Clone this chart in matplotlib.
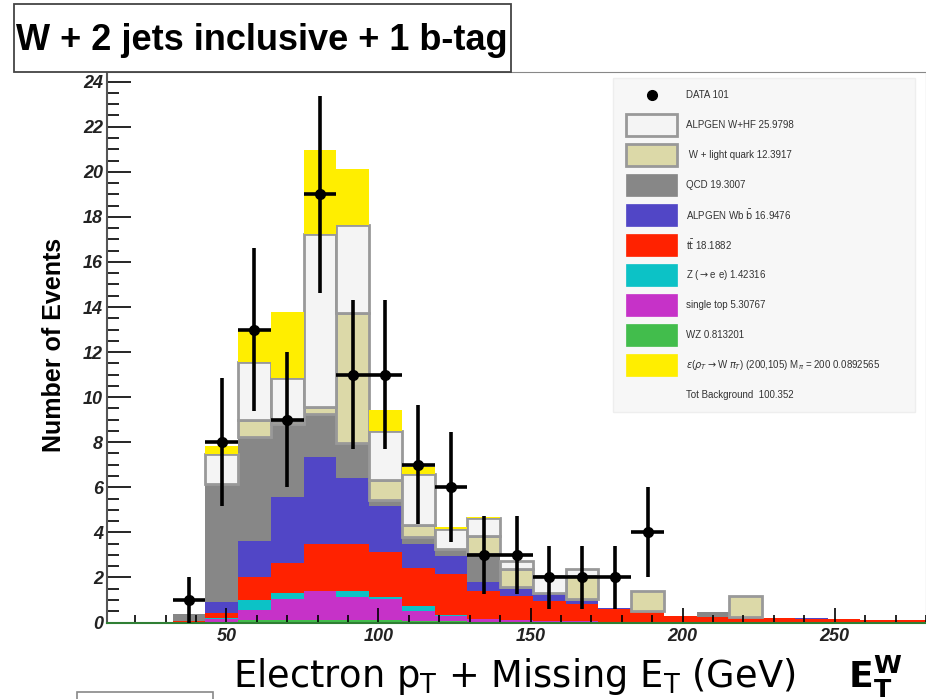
import numpy as np
import matplotlib
matplotlib.use("Agg")
from matplotlib import pyplot as plt
from matplotlib.patches import Rectangle
from matplotlib.lines import Line2D
from matplotlib.ticker import MultipleLocator

W, H = 926, 699

# 26 bins of pT(e) + MET between 0 and 280 GeV
edges = np.linspace(0, 280, 27)

data = [0, 0, 0, 1, 8, 13, 9, 19, 11, 11, 7, 6, 3, 3, 2, 2, 2, 4, 0, 0, 0, 0, 0, 0, 0, 0]

wz = [0, 0, 0, 0, 0.03, 0.10, 0.12, 0.12, 0.10, 0.10, 0.08, 0.06, 0.04, 0.03, 0.02, 0.02,
      0.01, 0.01, 0.01, 0.01, 0.01, 0.01, 0.01, 0.01, 0.01, 0.01]
single_top = [0, 0, 0, 0.03, 0.12, 0.45, 0.92, 1.30, 1.05, 0.95, 0.41, 0.24, 0.11, 0.07, 0.06,
              0.04, 0.02, 0.02, 0.01, 0.01, 0.01, 0, 0, 0, 0, 0]
z_ee = [0, 0, 0, 0, 0.05, 0.45, 0.25, 0.0, 0.25, 0.10, 0.25, 0.05, 0, 0, 0, 0,
        0, 0, 0, 0, 0, 0, 0, 0, 0, 0]
ttbar = [0, 0, 0, 0.05, 0.24, 1.00, 1.33, 2.08, 2.07, 2.00, 1.70, 1.80, 1.26, 1.09, 0.88, 0.76,
         0.57, 0.46, 0.27, 0.22, 0.22, 0.19, 0.15, 0.13, 0.11, 0.09]
wbb = [0, 0, 0, 0, 0.45, 1.63, 2.97, 3.85, 2.93, 2.00, 1.04, 0.81, 0.37, 0.29, 0.30, 0.14,
       0.03, 0, 0, 0, 0, 0, 0.05, 0, 0, 0]
qcd = [0, 0, 0, 0.30, 5.26, 4.59, 3.23, 1.92, 1.56, 0.29, 0.30, 0.30, 1.26, 0.08, 0.04, 0.08,
       0, 0, 0, 0.24, 0, 0, 0, 0, 0, 0]
w_light = [0, 0, 0, 0, 0, 0.78, 0.10, 0.30, 5.78, 0.89, 0.56, 0, 0.81, 0.81, 0, 1.03,
           0, 0.89, 0, 0, 0.94, 0, 0, 0, 0, 0]
w_hf = [0, 0, 0, 0, 1.33, 2.56, 1.94, 7.66, 3.92, 2.15, 2.25, 0.89, 0.79, 0.34, 0.75, 0.30,
        0, 0, 0, 0, 0, 0, 0, 0, 0, 0]
signal = [0, 0, 0, 0, 0.35, 1.48, 2.92, 3.75, 2.45, 0.96, 0.30, 0.07, 0.06, 0, 0, 0,
          0, 0, 0, 0, 0, 0, 0, 0, 0, 0]

# stack order, bottom to top
stack = [
    (wz, "#42bd4c", None),
    (single_top, "#c632c8", None),
    (z_ee, "#0cc2c6", None),
    (ttbar, "#ff2200", None),
    (wbb, "#5146c6", None),
    (qcd, "#878787", None),
    (w_light, "#dcd9a8", "#999999"),
    (w_hf, "#f4f4f4", "#999999"),
    (signal, "#ffee00", None),
]

legend_labels = [
    "DATA %d" % sum(data),
    "ALPGEN W+HF 25.9798",
    " W + light quark 12.3917",
    "QCD 19.3007",
    r"ALPGEN Wb $\bar{\mathrm{b}}$ 16.9476",
    r"t$\bar{\mathrm{t}}$ 18.1882",
    r"Z ($\rightarrow$e e) 1.42316",
    "single top 5.30767",
    "WZ 0.813201",
    r"$\epsilon$($\rho_T\rightarrow$W $\pi_T$) (200,105) M$_\pi$ = 200 0.0892565",
]
legend_colors = ["#f4f4f4", "#dcd9a8", "#878787", "#5146c6", "#ff2200",
                 "#0cc2c6", "#c632c8", "#42bd4c", "#ffee00"]
tot_label = "Tot Background  100.352"


def fx(x):
    return x / W


def fy(y):
    return 1 - y / H


fig = plt.figure(figsize=(W / 100, H / 100), dpi=100)
ax = fig.add_axes([fx(107), fy(622.5), (926 - 107) / W, (622.5 - 72) / H])

widths = np.diff(edges)
bottom = np.zeros(len(data))
for vals, color, edge in stack:
    vals = np.array(vals, dtype=float)
    m = vals > 0
    if edge is None:
        ax.bar(edges[:-1][m], vals[m], width=widths[m], bottom=bottom[m], align="edge",
               color=color, linewidth=0)
    else:
        ax.bar(edges[:-1][m], vals[m], width=widths[m], bottom=bottom[m], align="edge",
               facecolor=color, edgecolor=edge, linewidth=2)
    bottom += vals

# data points with poisson errors
d = np.array(data, dtype=float)
centers = 0.5 * (edges[1:] + edges[:-1])
m = d > 0
ax.errorbar(centers[m], d[m], yerr=np.sqrt(d[m]), xerr=widths[m] / 2, fmt="o",
            color="black", ms=7, elinewidth=2.6, capsize=0, zorder=5)

ax.set_xlim(edges[1], edges[-1])
ax.set_ylim(0, 24.43)
ax.set_yticks(range(0, 25, 2))
ax.yaxis.set_minor_locator(MultipleLocator(0.5))
ax.set_xticks([50, 100, 150, 200, 250])
ax.xaxis.set_minor_locator(MultipleLocator(10))
ax.tick_params(axis="y", which="major", direction="in", length=17, width=1.2, pad=3,
               right=False)
ax.tick_params(axis="y", which="minor", direction="in", length=8.5, width=1.2, right=False)
ax.tick_params(axis="x", which="major", direction="in", length=11, width=1.2, pad=4,
               top=False)
ax.tick_params(axis="x", which="minor", direction="in", length=6, width=1.2, top=False)
for lab in ax.get_xticklabels() + ax.get_yticklabels():
    lab.set_fontfamily("Liberation Sans")
    lab.set_fontstyle("italic")
    lab.set_fontweight("bold")
    lab.set_fontsize(13)
    lab.set_color("#222222")

ax.spines["left"].set_color("#555555")
ax.spines["left"].set_linewidth(1.5)
ax.spines["bottom"].set_color("#2f7f34")
ax.spines["bottom"].set_linewidth(1.5)
ax.spines["top"].set_color("#888888")
ax.spines["right"].set_color("#888888")

fig.text(fx(54), fy(345), "Number of Events", rotation=90, ha="center", va="center",
         family="Liberation Sans", fontweight="bold", fontsize=18)

# legend panel
fig.add_artist(Rectangle((fx(613), fy(412)), (915 - 613) / W, (412 - 78) / H,
                         transform=fig.transFigure, facecolor="#f7f7f7",
                         edgecolor="#eeeeee", lw=1, zorder=5))
rows = [95 + 30 * i for i in range(11)]
fig.add_artist(Line2D([fx(652)], [fy(rows[0])], marker="o", ms=7, color="black",
                      transform=fig.transFigure, zorder=6))
for i, col in enumerate(legend_colors):
    yc = rows[i + 1]
    edge = "#999999" if i < 2 else col
    fig.add_artist(Rectangle((fx(626), fy(yc + 11)), 51 / W, 22 / H,
                             transform=fig.transFigure, facecolor=col, edgecolor=edge,
                             lw=2 if i < 2 else 0.5, zorder=6))
for i, lab in enumerate(legend_labels):
    fig.text(fx(686), fy(rows[i]), lab, ha="left", va="center", fontsize=7,
             color="#333333", family="Liberation Sans", zorder=7)
fig.text(fx(686), fy(rows[10]), tot_label, ha="left", va="center", fontsize=7,
         color="#333333", family="Liberation Sans", zorder=7)

# title box
fig.add_artist(Rectangle((fx(14), fy(72)), (511 - 14) / W, (72 - 4) / H,
                         transform=fig.transFigure, facecolor="white",
                         edgecolor="#444444", lw=1.3, zorder=10))
fig.text(fx(262), fy(40), "W + 2 jets inclusive + 1 b-tag", ha="center", va="center",
         family="Liberation Sans", fontweight="bold", fontsize=26, zorder=11)

# axis title
fig.text(fx(233), fy(687), r"Electron p$_\mathrm{T}$ + Missing E$_\mathrm{T}$ (GeV)",
         ha="left", va="baseline", family="DejaVu Sans", fontsize=26.5)
fig.text(fx(848), fy(688), r"$\mathbf{E}_\mathbf{T}^\mathbf{W}$", ha="left",
         va="baseline", fontsize=26)

# edge of a box below the plot
fig.add_artist(Rectangle((fx(77), fy(730)), (213 - 77) / W, (730 - 692) / H,
                         transform=fig.transFigure, facecolor="none",
                         edgecolor="#888888", lw=1.2, zorder=3))

fig.savefig("out.png", dpi=100)
